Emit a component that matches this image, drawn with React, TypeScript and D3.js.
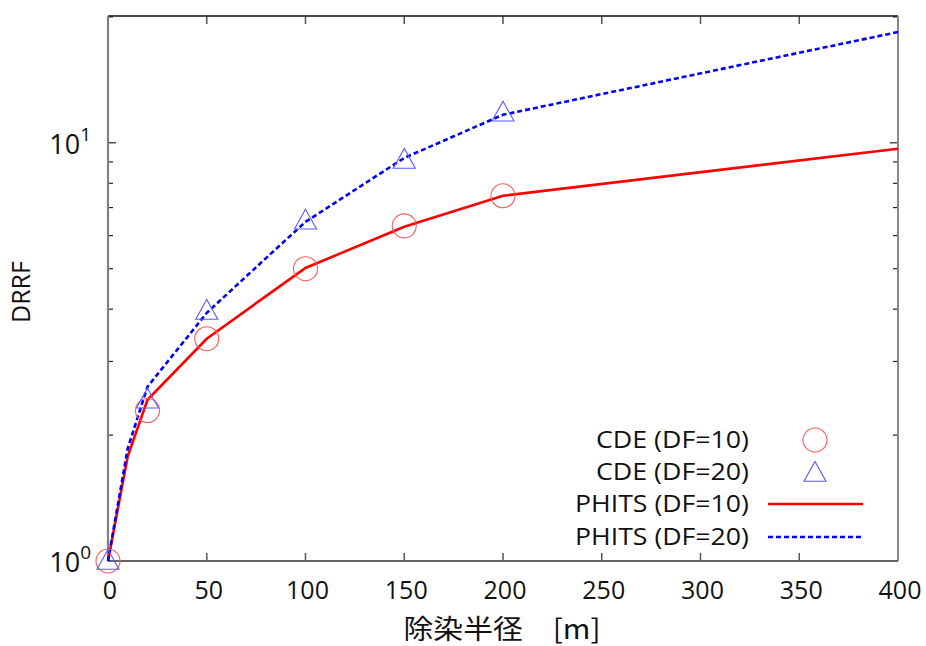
import React from "react";
import * as d3 from "d3";

const cdeDist = [0, 20, 50, 100, 150, 200];
const cdeDF10 = [1, 2.29, 3.4, 5.0, 6.33, 7.47];
const cdeDF20 = [1, 2.43, 3.96, 6.51, 9.1, 11.8];
const phitsDist = [0, 10, 20, 50, 80, 100, 150, 200, 400];
const phitsDF10 = [1, 1.78, 2.43, 3.4, 4.3, 5.02, 6.3, 7.47, 9.68];
const phitsDF20 = [1, 1.86, 2.61, 3.92, 5.3, 6.47, 9.2, 11.67, 18.4];
const xTicks = [0, 50, 100, 150, 200, 250, 300, 350, 400];
const yMajor = [1, 10];
const yMinor = [2, 3, 4, 5, 6, 7, 8, 9, 20];
const legendLabels = ["CDE (DF=10)", "CDE (DF=20)", "PHITS (DF=10)", "PHITS (DF=20)"];

const W = 926, H = 646;
const L = 108, R = 898, T = 16, B = 561;
const FONT = "'Open Sans', 'Noto Sans', sans-serif";

export default function App() {
  const x = d3.scaleLinear().domain([0, 400]).range([L, R]);
  const y = d3.scaleLog().domain([1, 20.1]).range([B, T]);
  const line = d3.line<[number, number]>().x(d => x(d[0])).y(d => y(d[1]));
  const p10 = phitsDist.map((d, i) => [d, phitsDF10[i]] as [number, number]);
  const p20 = phitsDist.map((d, i) => [d, phitsDF20[i]] as [number, number]);
  const tri = (cx: number, cy: number, s = 11) =>
    `M${cx},${cy - s * 1.05} L${cx + s},${cy + s * 0.75} L${cx - s},${cy + s * 0.75} Z`;
  const legY = [440, 472, 504, 537];
  return (
    <svg width={W} height={H} style={{ position: "absolute", left: 0, top: 0, background: "#fff" }}>
      <rect x={0} y={0} width={W} height={H} fill="#fff" />
      {xTicks.map(t => (
        <g key={"xt" + t}>
          <line x1={x(t)} x2={x(t)} y1={B} y2={B - 8} stroke="#555" strokeWidth={1.5} />
          <line x1={x(t)} x2={x(t)} y1={T} y2={T + 8} stroke="#555" strokeWidth={1.5} />
          <text x={x(t) + 2} y={599} textAnchor="middle" fontFamily={FONT} fontSize={25} fill="#111">{t}</text>
        </g>
      ))}
      {yMajor.map(t => (
        <g key={"ym" + t}>
          <line x1={L} x2={L + 8} y1={y(t)} y2={y(t)} stroke="#222" strokeWidth={1.2} />
          <line x1={R} x2={R - 8} y1={y(t)} y2={y(t)} stroke="#222" strokeWidth={1.2} />
          <text x={91} y={y(t) + 11} textAnchor="end" fontFamily={FONT} fontSize={27} fill="#111">
            10<tspan dy={-13} fontSize={19}>{Math.round(Math.log10(t))}</tspan>
          </text>
        </g>
      ))}
      {yMinor.map(t => (
        <g key={"yn" + t}>
          <line x1={L} x2={L + 5} y1={y(t)} y2={y(t)} stroke="#222" strokeWidth={1.2} />
          <line x1={R} x2={R - 5} y1={y(t)} y2={y(t)} stroke="#222" strokeWidth={1.2} />
        </g>
      ))}
      <line x1={L} x2={R} y1={T} y2={T} stroke="#111" strokeWidth={1.3} />
      <line x1={R} x2={R} y1={T} y2={B} stroke="#888" strokeWidth={2} />
      <line x1={L} x2={L} y1={T} y2={B} stroke="#808080" strokeWidth={2.2} />
      <line x1={L} x2={R} y1={B} y2={B} stroke="#666" strokeWidth={2} />
      <path d={line(p10) || ""} fill="none" stroke="#ff0000" strokeWidth={2.6} />
      <path d={line(p20) || ""} fill="none" stroke="#0000ff" strokeWidth={2.6} strokeDasharray="5,3" />
      {cdeDist.map((d, i) => (
        <circle key={"c" + i} cx={x(d)} cy={y(cdeDF10[i])} r={12} fill="none" stroke="#ff5a5a" strokeWidth={1.1} />
      ))}
      {cdeDist.map((d, i) => (
        <path key={"t" + i} d={tri(x(d), y(cdeDF20[i]))} fill="none" stroke="#5a5aff" strokeWidth={1.1} />
      ))}
      {legendLabels.map((s, i) => (
        <text key={s} x={749} y={legY[i] + 8} textAnchor="end" fontFamily={FONT} fontSize={23} fill="#111" textLength={s.startsWith("CDE") ? 153 : 174} lengthAdjust="spacingAndGlyphs">{s}</text>
      ))}
      <circle cx={815} cy={legY[0]} r={12} fill="none" stroke="#ff5a5a" strokeWidth={1.1} />
      <path d={tri(815, legY[1] + 1)} fill="none" stroke="#5a5aff" strokeWidth={1.1} />
      <line x1={768} x2={863} y1={legY[2]} y2={legY[2]} stroke="#ff0000" strokeWidth={2.6} />
      <line x1={768} x2={863} y1={legY[3]} y2={legY[3]} stroke="#0000ff" strokeWidth={2.6} strokeDasharray="5,3" />
      <text x={502} y={639} textAnchor="middle" fontFamily="'Noto Sans CJK JP', sans-serif" fontSize={27} fill="#111" textLength={197} lengthAdjust="spacingAndGlyphs">除染半径　[m]</text>
      <text transform={`translate(30,${292}) rotate(-90)`} textAnchor="middle" fontFamily={FONT} fontSize={25} fill="#111">DRRF</text>
    </svg>
  );
}
